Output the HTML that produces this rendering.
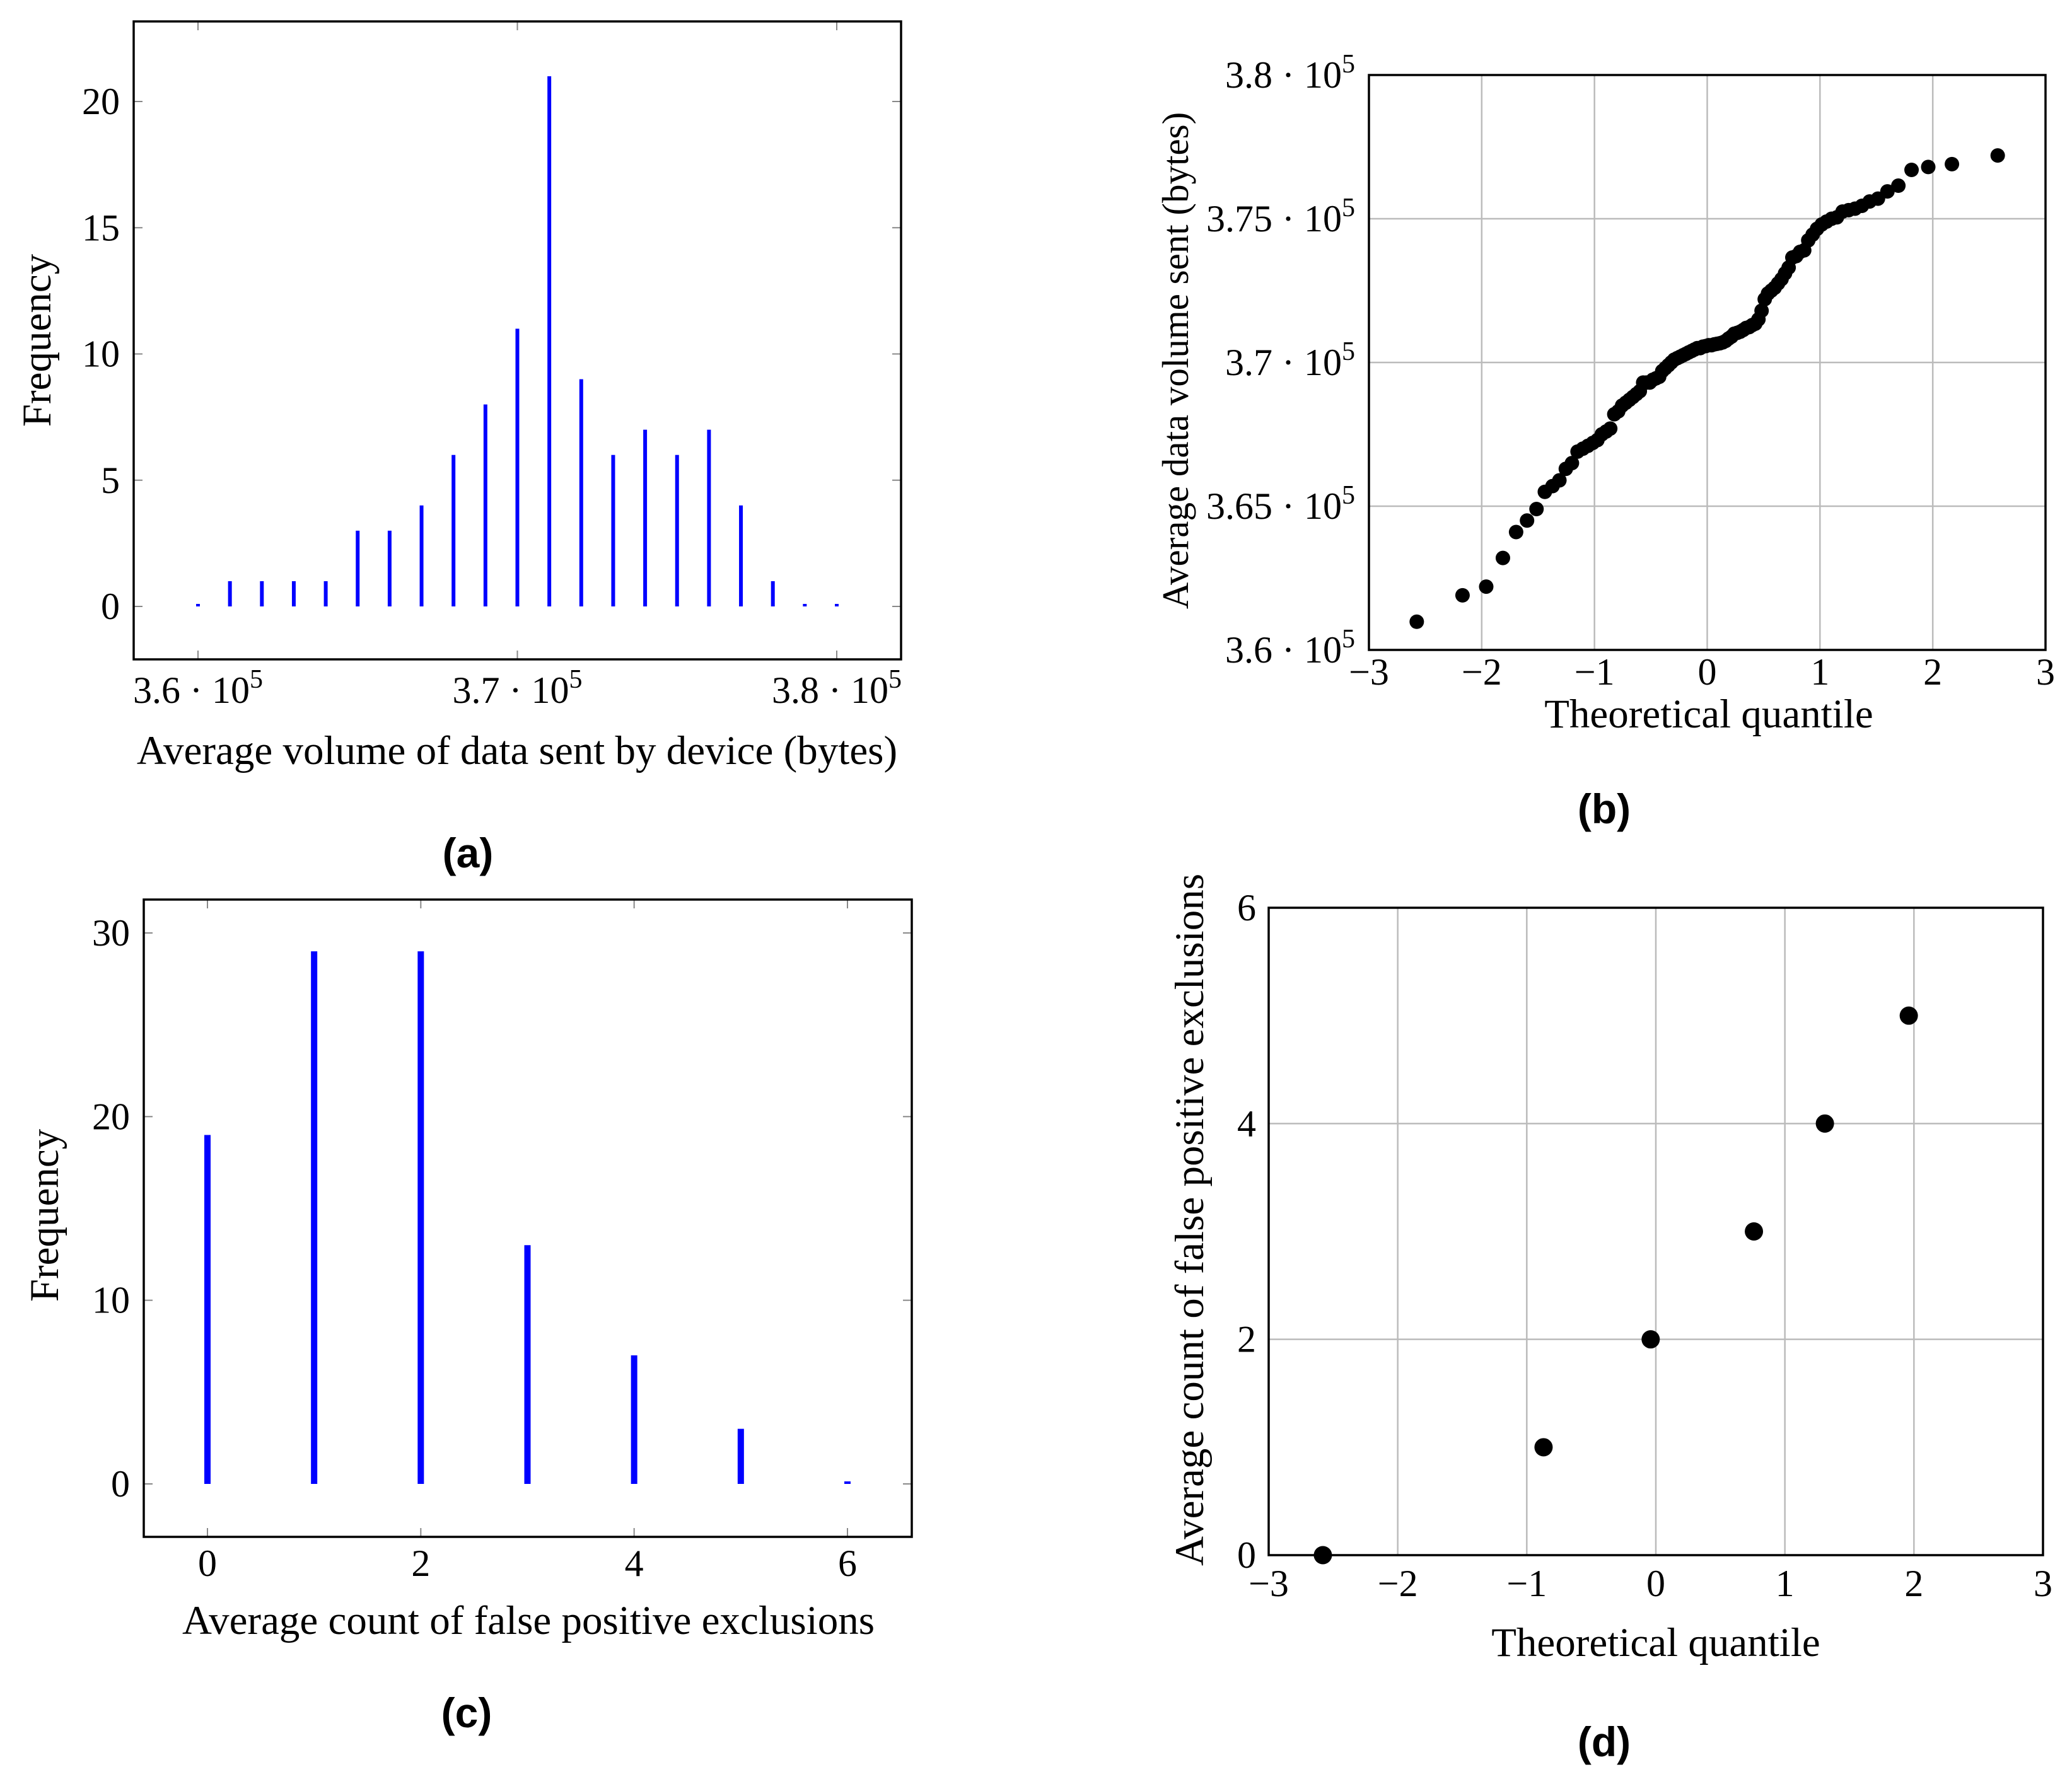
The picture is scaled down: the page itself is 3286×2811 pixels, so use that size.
<!DOCTYPE html>
<html><head><meta charset="utf-8">
<style>
html,body{margin:0;padding:0;background:#fff;}
svg{display:block;font-family:"Liberation Serif",serif;}
.tk{font-size:60px;fill:#000;}
.lb{font-size:65px;fill:#000;}
.cap{font-family:"Liberation Sans",sans-serif;font-weight:bold;font-size:66px;fill:#000;}
</style></head>
<body>
<svg id="fig" width="3286" height="2811" viewBox="0 0 3286 2811" xmlns="http://www.w3.org/2000/svg">
<g id="pa"></g>
<g id="pb"></g>
<g id="pc"></g>
<g id="pd"></g>
</svg>
<script>
// Panel (a) data
const aBins = [360000,361000,362000,363000,364000,365000,366000,367000,368000,369000,370000,371000,372000,373000,374000,375000,376000,377000,378000,379000,380000];
const aCounts = [0,1,1,1,1,3,3,4,6,8,11,21,9,6,7,6,7,4,1,0,0];
const aYTicks = [0,5,10,15,20];
const aXTicks = [360000,370000,380000];
const aXTickLabels = ["3.6","3.7","3.8"];
// Panel (b) data
const bQuantiles = [-2.576,-2.170,-1.960,-1.812,-1.695,-1.598,-1.514,-1.440,-1.372,-1.311,-1.254,-1.200,-1.150,-1.103,-1.058,-1.015,-0.974,-0.935,-0.896,-0.860,-0.824,-0.789,-0.755,-0.722,-0.690,-0.659,-0.628,-0.598,-0.568,-0.539,-0.510,-0.482,-0.454,-0.426,-0.399,-0.372,-0.345,-0.319,-0.292,-0.266,-0.240,-0.215,-0.189,-0.164,-0.138,-0.113,-0.088,-0.063,-0.038,-0.013,
0.013,0.038,0.063,0.088,0.113,0.138,0.164,0.189,0.215,0.240,0.266,0.292,0.319,0.345,0.372,0.399,0.426,0.454,0.482,0.510,0.539,0.568,0.598,0.628,0.659,0.690,0.722,0.755,0.789,0.824,0.860,0.896,0.935,0.974,1.015,1.058,1.103,1.150,1.200,1.254,1.311,1.372,1.440,1.514,1.598,1.695,1.812,1.960,2.170,2.576];
const bValues = [360.98,361.9,362.2,363.2,364.1,364.5,364.9,365.5,365.7,365.9,366.3,366.5,366.9,367.0,367.1,367.2,367.3,367.5,367.6,367.7,368.2,368.3,368.5,368.6,368.7,368.8,368.9,369.0,369.3,369.3,369.3,369.4,369.45,369.5,369.7,369.8,369.9,370.0,370.1,370.15,370.2,370.25,370.3,370.35,370.4,370.45,370.5,370.5,370.55,370.57,
370.6,370.6,370.63,370.65,370.67,370.7,370.75,370.83,370.9,371.0,371.03,371.07,371.13,371.2,371.23,371.3,371.35,371.5,371.8,372.2,372.4,372.5,372.6,372.75,372.9,373.1,373.3,373.65,373.7,373.85,373.9,374.25,374.45,374.65,374.8,374.9,375.0,375.05,375.25,375.3,375.35,375.45,375.6,375.7,375.95,376.15,376.7,376.8,376.9,377.2];
const bYTicks = [360,365,370,375,380];
const bYTickLabels = ["3.6","3.65","3.7","3.75","3.8"];
const bXTicks = [-3,-2,-1,0,1,2,3];
// Panel (c) data
const cCats = [0,1,2,3,4,5,6];
const cCounts = [19,29,29,13,7,3,0];
const cYTicks = [0,10,20,30];
const cXTicks = [0,2,4,6];
// Panel (d) data
const dQuantiles = [-2.58,-0.87,-0.04,0.76,1.31,1.96];
const dValues = [0,1,2,3,4,5];
const dYTicks = [0,2,4,6];
const dXTicks = [-3,-2,-1,0,1,2,3];

const NS = "http://www.w3.org/2000/svg";
function mk(parent, tag, attrs, text){
  const e = document.createElementNS(NS, tag);
  for (const k in attrs) e.setAttribute(k, attrs[k]);
  if (text !== undefined) e.textContent = text;
  parent.appendChild(e);
  return e;
}
function lin(d0,d1,r0,r1){ return v => r0 + (v-d0)/(d1-d0)*(r1-r0); }
function sciLabel(g, x, y, mant, anchor){
  const t = mk(g,'text',{x:x,y:y,'text-anchor':anchor,class:'tk'});
  
  
  const s1 = document.createElementNS(NS,'tspan'); s1.textContent = mant + " \u00B7 10"; t.appendChild(s1);
  const s2 = document.createElementNS(NS,'tspan'); s2.setAttribute('dy','-24'); s2.setAttribute('font-size','42'); s2.textContent = "5"; t.appendChild(s2);
  return t;
}
function frame(g,L,T,R,B){
  const r = mk(g,'rect',{x:L,y:T,width:R-L,height:B-T,fill:'none',stroke:'#000','stroke-width':3.5});
  
  
}

// ---------- Panel A ----------
(function(){
  const g = document.getElementById('pa');
  const L=212,R=1429,T=34,B=1046;
  const x = lin(360000,380000,314,1327);
  const y = lin(0,20,962,161);
  aYTicks.forEach(v=>{
    mk(g,'line',{x1:L,x2:L+14,y1:y(v),y2:y(v),stroke:'#888','stroke-width':2});
    mk(g,'line',{x1:R-14,x2:R,y1:y(v),y2:y(v),stroke:'#888','stroke-width':2});
    const t = mk(g,'text',{x:L-22,y:y(v)+20,'text-anchor':'end',class:'tk'},String(v));
    
    
  });
  aXTicks.forEach((v,i)=>{
    mk(g,'line',{x1:x(v),x2:x(v),y1:T,y2:T+14,stroke:'#888','stroke-width':2});
    mk(g,'line',{x1:x(v),x2:x(v),y1:B-14,y2:B,stroke:'#888','stroke-width':2});
    sciLabel(g, x(v), 1115, aXTickLabels[i], 'middle');
  });
  aBins.forEach((v,i)=>{
    const h = Math.max(y(0)-y(aCounts[i]), 4);
    const r = mk(g,'rect',{x:x(v)-3,y:y(0)-h,width:6,height:h,fill:'#0000ff'});
    
    
  });
  frame(g,L,T,R,B);
  const xl = mk(g,'text',{x:820,y:1212,'text-anchor':'middle',class:'lb'},'Average volume of data sent by device (bytes)');
  
  
  const yl = mk(g,'text',{x:0,y:0,'text-anchor':'middle',class:'lb',transform:'translate(80,540) rotate(-90)'},'Frequency');
  
  
  const c = mk(g,'text',{x:742,y:1376,'text-anchor':'middle',class:'cap'},'(a)');
  
  
})();

// ---------- Panel B ----------
(function(){
  const g = document.getElementById('pb');
  const L=2171,R=3244,T=119,B=1031;
  const x = lin(-3,3,L,R);
  const y = lin(360,380,B,T);
  bXTicks.forEach(v=>{
    mk(g,'line',{x1:x(v),x2:x(v),y1:T,y2:B,stroke:'#bbb','stroke-width':2.5});
    const t = mk(g,'text',{x:x(v),y:1086,'text-anchor':'middle',class:'tk'},(v<0?'\u2212':'')+Math.abs(v));
    
    
  });
  bYTicks.forEach((v,i)=>{
    mk(g,'line',{x1:L,x2:R,y1:y(v),y2:y(v),stroke:'#bbb','stroke-width':2.5});
    sciLabel(g, L-22, y(v)+20, bYTickLabels[i], 'end');
  });
  bQuantiles.forEach((q,i)=>{
    const c = mk(g,'circle',{cx:x(q),cy:y(bValues[i]),r:11.5,fill:'#000'});
    
    
  });
  frame(g,L,T,R,B);
  const xl = mk(g,'text',{x:2710,y:1154,'text-anchor':'middle',class:'lb'},'Theoretical quantile');
  
  
  const yl = mk(g,'text',{x:0,y:0,'text-anchor':'middle',class:'lb','font-size':'59',style:'font-size:59px',transform:'translate(1884,572) rotate(-90)'},'Average data volume sent (bytes)');
  
  
  const c = mk(g,'text',{x:2544,y:1306,'text-anchor':'middle',class:'cap'},'(b)');
  
  
})();

// ---------- Panel C ----------
(function(){
  const g = document.getElementById('pc');
  const L=228,R=1446,T=1427,B=2438;
  const x = lin(0,6,329,1344);
  const y = lin(0,30,2354,1480);
  cYTicks.forEach(v=>{
    mk(g,'line',{x1:L,x2:L+14,y1:y(v),y2:y(v),stroke:'#888','stroke-width':2});
    mk(g,'line',{x1:R-14,x2:R,y1:y(v),y2:y(v),stroke:'#888','stroke-width':2});
    const t = mk(g,'text',{x:L-22,y:y(v)+20,'text-anchor':'end',class:'tk'},String(v));
    
    
  });
  cXTicks.forEach(v=>{
    mk(g,'line',{x1:x(v),x2:x(v),y1:T,y2:T+14,stroke:'#888','stroke-width':2});
    mk(g,'line',{x1:x(v),x2:x(v),y1:B-14,y2:B,stroke:'#888','stroke-width':2});
    const t = mk(g,'text',{x:x(v),y:2500,'text-anchor':'middle',class:'tk'},String(v));
    
    
  });
  cCats.forEach((v,i)=>{
    const h = Math.max(y(0)-y(cCounts[i]), 4);
    const r = mk(g,'rect',{x:x(v)-5,y:y(0)-h,width:10,height:h,fill:'#0000ff'});
    
    
  });
  frame(g,L,T,R,B);
  const xl = mk(g,'text',{x:838,y:2592,'text-anchor':'middle',class:'lb'},'Average count of false positive exclusions');
  
  
  const yl = mk(g,'text',{x:0,y:0,'text-anchor':'middle',class:'lb',transform:'translate(92,1928) rotate(-90)'},'Frequency');
  
  
  const c = mk(g,'text',{x:740,y:2740,'text-anchor':'middle',class:'cap'},'(c)');
  
  
})();

// ---------- Panel D ----------
(function(){
  const g = document.getElementById('pd');
  const L=2012,R=3240,T=1440,B=2467;
  const x = lin(-3,3,L,R);
  const y = lin(0,6,B,T);
  dXTicks.forEach(v=>{
    mk(g,'line',{x1:x(v),x2:x(v),y1:T,y2:B,stroke:'#bbb','stroke-width':2.5});
    const t = mk(g,'text',{x:x(v),y:2532,'text-anchor':'middle',class:'tk'},(v<0?'\u2212':'')+Math.abs(v));
    
    
  });
  dYTicks.forEach(v=>{
    mk(g,'line',{x1:L,x2:R,y1:y(v),y2:y(v),stroke:'#bbb','stroke-width':2.5});
    const t = mk(g,'text',{x:L-20,y:y(v)+20,'text-anchor':'end',class:'tk'},String(v));
    
    
  });
  dQuantiles.forEach((q,i)=>{
    const c = mk(g,'circle',{cx:x(q),cy:y(dValues[i]),r:14.5,fill:'#000'});
    
    
  });
  frame(g,L,T,R,B);
  const xl = mk(g,'text',{x:2626,y:2627,'text-anchor':'middle',class:'lb'},'Theoretical quantile');
  
  
  const yl = mk(g,'text',{x:0,y:0,'text-anchor':'middle',class:'lb',transform:'translate(1908,1935) rotate(-90)'},'Average count of false positive exclusions');
  
  
  const c = mk(g,'text',{x:2544,y:2786,'text-anchor':'middle',class:'cap'},'(d)');
  
  
})();
</script>
</body></html>
